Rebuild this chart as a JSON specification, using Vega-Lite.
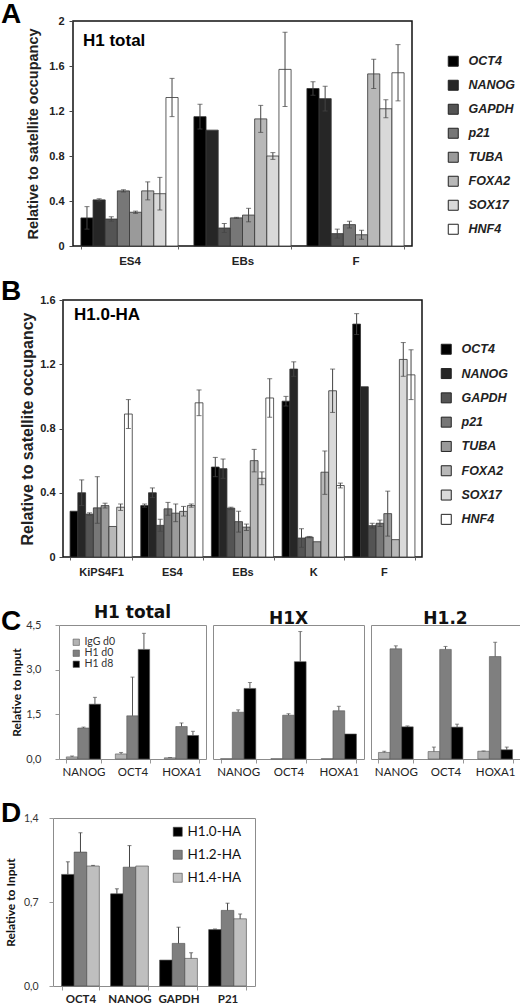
{
  "$schema": "https://vega.github.io/schema/vega-lite/v6.json",
  "background": "white",
  "padding": {"left": 1, "top": 1, "right": 0, "bottom": 0},
  "config": {"font": "Liberation Sans"},
  "columns": 1,
  "align": "none",
  "spacing": 25,
  "resolve": {"scale": {"x": "independent", "xOffset": "independent", "y": "independent", "color": "independent"}, "axis": {"x": "independent", "y": "independent"}, "legend": {"color": "independent"}},
  "datasets": {
    "a": [
      {"g":"ES4","k":"OCT4","v":0.25,"lo":0.15,"hi":0.35},
      {"g":"ES4","k":"NANOG","v":0.41,"lo":0.40,"hi":0.42},
      {"g":"ES4","k":"GAPDH","v":0.24,"lo":0.22,"hi":0.26},
      {"g":"ES4","k":"p21","v":0.49,"lo":0.48,"hi":0.50},
      {"g":"ES4","k":"TUBA","v":0.30,"lo":0.29,"hi":0.31},
      {"g":"ES4","k":"FOXA2","v":0.49,"lo":0.41,"hi":0.57},
      {"g":"ES4","k":"SOX17","v":0.465,"lo":0.32,"hi":0.61},
      {"g":"ES4","k":"HNF4","v":1.32,"lo":1.15,"hi":1.49},
      {"g":"EBs","k":"OCT4","v":1.15,"lo":1.04,"hi":1.26},
      {"g":"EBs","k":"NANOG","v":1.03},
      {"g":"EBs","k":"GAPDH","v":0.16,"lo":0.12,"hi":0.20},
      {"g":"EBs","k":"p21","v":0.25,"lo":0.245,"hi":0.255},
      {"g":"EBs","k":"TUBA","v":0.275,"lo":0.215,"hi":0.335},
      {"g":"EBs","k":"FOXA2","v":1.13,"lo":1.01,"hi":1.25},
      {"g":"EBs","k":"SOX17","v":0.80,"lo":0.77,"hi":0.83},
      {"g":"EBs","k":"HNF4","v":1.57,"lo":1.24,"hi":1.90},
      {"g":"F","k":"OCT4","v":1.40,"lo":1.34,"hi":1.46},
      {"g":"F","k":"NANOG","v":1.31,"lo":1.20,"hi":1.42},
      {"g":"F","k":"GAPDH","v":0.11,"lo":0.07,"hi":0.15},
      {"g":"F","k":"p21","v":0.19,"lo":0.16,"hi":0.22},
      {"g":"F","k":"TUBA","v":0.10,"lo":0.06,"hi":0.14},
      {"g":"F","k":"FOXA2","v":1.53,"lo":1.40,"hi":1.66},
      {"g":"F","k":"SOX17","v":1.22,"lo":1.14,"hi":1.30},
      {"g":"F","k":"HNF4","v":1.54,"lo":1.29,"hi":1.79}
    ],
    "b": [
      {"g":"KiPS4F1","k":"OCT4","v":0.285},
      {"g":"KiPS4F1","k":"NANOG","v":0.40,"lo":0.32,"hi":0.48},
      {"g":"KiPS4F1","k":"GAPDH","v":0.267,"lo":0.26,"hi":0.275},
      {"g":"KiPS4F1","k":"p21","v":0.306,"lo":0.21,"hi":0.50},
      {"g":"KiPS4F1","k":"TUBA","v":0.32,"lo":0.305,"hi":0.335},
      {"g":"KiPS4F1","k":"FOXA2","v":0.19},
      {"g":"KiPS4F1","k":"SOX17","v":0.31,"lo":0.29,"hi":0.33},
      {"g":"KiPS4F1","k":"HNF4","v":0.89,"lo":0.80,"hi":0.98},
      {"g":"ES4","k":"OCT4","v":0.32,"lo":0.31,"hi":0.33},
      {"g":"ES4","k":"NANOG","v":0.40,"lo":0.37,"hi":0.43},
      {"g":"ES4","k":"GAPDH","v":0.197,"lo":0.16,"hi":0.235},
      {"g":"ES4","k":"p21","v":0.30,"lo":0.26,"hi":0.34},
      {"g":"ES4","k":"TUBA","v":0.273,"lo":0.22,"hi":0.33},
      {"g":"ES4","k":"FOXA2","v":0.284,"lo":0.255,"hi":0.315},
      {"g":"ES4","k":"SOX17","v":0.32,"lo":0.31,"hi":0.33},
      {"g":"ES4","k":"HNF4","v":0.96,"lo":0.88,"hi":1.04},
      {"g":"EBs","k":"OCT4","v":0.56,"lo":0.50,"hi":0.62},
      {"g":"EBs","k":"NANOG","v":0.55,"lo":0.49,"hi":0.61},
      {"g":"EBs","k":"GAPDH","v":0.304,"lo":0.295,"hi":0.31},
      {"g":"EBs","k":"p21","v":0.22,"lo":0.155,"hi":0.285},
      {"g":"EBs","k":"TUBA","v":0.186,"lo":0.165,"hi":0.205},
      {"g":"EBs","k":"FOXA2","v":0.60,"lo":0.53,"hi":0.67},
      {"g":"EBs","k":"SOX17","v":0.49,"lo":0.45,"hi":0.53},
      {"g":"EBs","k":"HNF4","v":0.99,"lo":0.87,"hi":1.11},
      {"g":"K","k":"OCT4","v":0.97,"lo":0.94,"hi":1.0},
      {"g":"K","k":"NANOG","v":1.17,"lo":1.125,"hi":1.215},
      {"g":"K","k":"GAPDH","v":0.118,"lo":0.06,"hi":0.176},
      {"g":"K","k":"p21","v":0.124,"lo":0.12,"hi":0.128},
      {"g":"K","k":"TUBA","v":0.095},
      {"g":"K","k":"FOXA2","v":0.528,"lo":0.39,"hi":0.66},
      {"g":"K","k":"SOX17","v":1.035,"lo":0.90,"hi":1.17},
      {"g":"K","k":"HNF4","v":0.445,"lo":0.43,"hi":0.46},
      {"g":"F","k":"OCT4","v":1.45,"lo":1.385,"hi":1.515},
      {"g":"F","k":"NANOG","v":1.06},
      {"g":"F","k":"GAPDH","v":0.195,"lo":0.18,"hi":0.21},
      {"g":"F","k":"p21","v":0.21,"lo":0.19,"hi":0.23},
      {"g":"F","k":"TUBA","v":0.27,"lo":0.13,"hi":0.41},
      {"g":"F","k":"FOXA2","v":0.108},
      {"g":"F","k":"SOX17","v":1.23,"lo":1.125,"hi":1.335},
      {"g":"F","k":"HNF4","v":1.134,"lo":0.98,"hi":1.29}
    ],
    "c": [
      {"p":"H1 total","t":"NANOG","s":"IgG d0","v":0.07,"hi":0.10},
      {"p":"H1 total","t":"NANOG","s":"H1 d0","v":1.04,"hi":1.07},
      {"p":"H1 total","t":"NANOG","s":"H1 d8","v":1.84,"hi":2.07},
      {"p":"H1 total","t":"OCT4","s":"IgG d0","v":0.17,"hi":0.22},
      {"p":"H1 total","t":"OCT4","s":"H1 d0","v":1.45,"hi":2.75},
      {"p":"H1 total","t":"OCT4","s":"H1 d8","v":3.68,"hi":4.22},
      {"p":"H1 total","t":"HOXA1","s":"IgG d0","v":0.04,"hi":0.05},
      {"p":"H1 total","t":"HOXA1","s":"H1 d0","v":1.09,"hi":1.21},
      {"p":"H1 total","t":"HOXA1","s":"H1 d8","v":0.79,"hi":0.93},
      {"p":"H1X","t":"NANOG","s":"IgG d0","v":0.01},
      {"p":"H1X","t":"NANOG","s":"H1 d0","v":1.57,"hi":1.65},
      {"p":"H1X","t":"NANOG","s":"H1 d8","v":2.37,"hi":2.57},
      {"p":"H1X","t":"OCT4","s":"IgG d0","v":0.01},
      {"p":"H1X","t":"OCT4","s":"H1 d0","v":1.47,"hi":1.52},
      {"p":"H1X","t":"OCT4","s":"H1 d8","v":3.27,"hi":4.28},
      {"p":"H1X","t":"HOXA1","s":"IgG d0","v":0.01},
      {"p":"H1X","t":"HOXA1","s":"H1 d0","v":1.62,"hi":1.77},
      {"p":"H1X","t":"HOXA1","s":"H1 d8","v":0.84},
      {"p":"H1.2","t":"NANOG","s":"IgG d0","v":0.22,"hi":0.26},
      {"p":"H1.2","t":"NANOG","s":"H1 d0","v":3.70,"hi":3.80},
      {"p":"H1.2","t":"NANOG","s":"H1 d8","v":1.08,"hi":1.11},
      {"p":"H1.2","t":"OCT4","s":"IgG d0","v":0.25,"hi":0.40},
      {"p":"H1.2","t":"OCT4","s":"H1 d0","v":3.68,"hi":3.78},
      {"p":"H1.2","t":"OCT4","s":"H1 d8","v":1.07,"hi":1.17},
      {"p":"H1.2","t":"HOXA1","s":"IgG d0","v":0.26,"hi":0.27},
      {"p":"H1.2","t":"HOXA1","s":"H1 d0","v":3.44,"hi":3.92},
      {"p":"H1.2","t":"HOXA1","s":"H1 d8","v":0.31,"hi":0.40}
    ],
    "d": [
      {"t":"OCT4","s":"H1.0-HA","v":0.93,"hi":1.035},
      {"t":"OCT4","s":"H1.2-HA","v":1.116,"hi":1.277},
      {"t":"OCT4","s":"H1.4-HA","v":1.0,"hi":1.005},
      {"t":"NANOG","s":"H1.0-HA","v":0.768,"hi":0.81},
      {"t":"NANOG","s":"H1.2-HA","v":0.99,"hi":1.17},
      {"t":"NANOG","s":"H1.4-HA","v":1.0},
      {"t":"GAPDH","s":"H1.0-HA","v":0.216},
      {"t":"GAPDH","s":"H1.2-HA","v":0.355,"hi":0.49},
      {"t":"GAPDH","s":"H1.4-HA","v":0.23,"hi":0.277},
      {"t":"P21","s":"H1.0-HA","v":0.47,"hi":0.475},
      {"t":"P21","s":"H1.2-HA","v":0.63,"hi":0.69},
      {"t":"P21","s":"H1.4-HA","v":0.56,"hi":0.60}
    ]
  },
  "concat": [
  {
  "columns": 1,
  "align": "none",
  "spacing": 10,
  "resolve": {"scale": {"x": "independent", "xOffset": "independent", "y": "independent", "color": "independent"}, "axis": {"x": "independent", "y": "independent"}, "legend": {"color": "independent"}},
  "concat": [
    {
      "bounds": "flush",
      "spacing": 0,
      "resolve": {"scale": {"x": "independent", "xOffset": "independent", "y": "independent", "color": "independent"}, "legend": {"color": "independent"}},
      "hconcat": [
      {
        "width": 72, "height": 1,
        "view": {"stroke": null},
        "title": {"text": "A", "anchor": "start", "frame": "group", "font": "Liberation Sans", "fontSize": 28, "fontWeight": "bold", "color": "#000", "offset": -8},
        "data": {"values": []},
        "mark": "rect"
      },
      {
        "width": 339, "height": 225,
        "title": {"text": "H1 total", "anchor": "start", "frame": "group", "offset": -35, "dx": 10, "font": "Liberation Sans", "fontSize": 17, "fontWeight": "bold", "color": "#000"},
        "view": {"stroke": "#111", "strokeWidth": 1.5},
        "data": {"name": "a"},
        "encoding": {
          "x": {"field": "g", "type": "nominal", "sort": ["ES4","EBs","F"], "scale": {"paddingInner": 0.14, "paddingOuter": 0.07},
                "axis": {"title": null, "labelAngle": 0, "labelFont": "Liberation Sans", "labelFontWeight": "bold", "labelFontSize": 11.5, "labelColor": "#222", "tickBand": "extent", "tickSize": 3, "tickColor": "#666", "domain": false, "labelPadding": 6}},
          "xOffset": {"field": "k", "type": "nominal", "sort": ["OCT4","NANOG","GAPDH","p21","TUBA","FOXA2","SOX17","HNF4"]}
        },
        "layer": [
          {"mark": {"type": "bar", "stroke": "#333", "strokeWidth": 0.8},
           "encoding": {
             "y": {"field": "v", "type": "quantitative", "scale": {"domain": [0, 2], "nice": false},
                   "axis": {"title": "Relative to satellite occupancy", "values": [0,0.2,0.4,0.6,0.8,1,1.2,1.4,1.6,1.8,2], "format": ".1~f", "labelOverlap": false, "grid": false, "domain": false, "tickSize": 4, "tickColor": "#444", "labelPadding": 5, "labelFont": "Liberation Sans", "labelFontWeight": "bold", "labelFontSize": 11, "labelColor": "#222", "titleFont": "Liberation Sans", "titleFontSize": 14.5, "titleFontWeight": "bold", "titleColor": "#222", "titlePadding": 8}},
             "color": {"field": "k", "type": "nominal",
                       "scale": {"domain": ["OCT4","NANOG","GAPDH","p21","TUBA","FOXA2","SOX17","HNF4"], "range": ["#000000","#262626","#545454","#777777","#9a9a9a","#b8b8b8","#d9d9d9","#ffffff"]},
                       "legend": {"orient": "none", "legendX": 374, "legendY": 34, "title": null, "symbolType": "square", "symbolSize": 100, "symbolStrokeColor": "#222", "symbolStrokeWidth": 1, "labelFont": "Liberation Sans", "labelFontWeight": "bold", "labelFontStyle": "italic", "labelFontSize": 12.5, "labelColor": "#222", "rowPadding": 9, "labelOffset": 9}}
           }},
          {"mark": {"type": "rule", "color": "#444", "strokeWidth": 1},
           "encoding": {"y": {"field": "lo", "type": "quantitative", "title": "Relative to satellite occupancy"}, "y2": {"field": "hi"}}},
          {"mark": {"type": "tick", "size": 5, "thickness": 1, "color": "#444"},
           "encoding": {"y": {"field": "lo", "type": "quantitative", "title": "Relative to satellite occupancy"}}},
          {"mark": {"type": "tick", "size": 5, "thickness": 1, "color": "#444"},
           "encoding": {"y": {"field": "hi", "type": "quantitative", "title": "Relative to satellite occupancy"}}}
        ]
      }]
    },
    {
      "bounds": "flush",
      "spacing": 0,
      "resolve": {"scale": {"x": "independent", "xOffset": "independent", "y": "independent", "color": "independent"}, "legend": {"color": "independent"}},
      "hconcat": [
      {
        "width": 62, "height": 1,
        "view": {"stroke": null},
        "title": {"text": "B", "anchor": "start", "frame": "group", "font": "Liberation Sans", "fontSize": 28, "fontWeight": "bold", "color": "#000", "offset": -6},
        "data": {"values": []},
        "mark": "rect"
      },
      {
        "width": 359, "height": 257,
        "title": {"text": "H1.0-HA", "anchor": "start", "frame": "group", "offset": -30, "dx": 11, "font": "Liberation Sans", "fontSize": 17, "fontWeight": "bold", "color": "#000"},
        "view": {"stroke": "#111", "strokeWidth": 1.5},
        "data": {"name": "b"},
        "encoding": {
          "x": {"field": "g", "type": "nominal", "sort": ["KiPS4F1","ES4","EBs","K","F"], "scale": {"paddingInner": 0.12, "paddingOuter": 0.1},
                "axis": {"title": null, "labelAngle": 0, "labelFont": "Liberation Sans", "labelFontWeight": "bold", "labelFontSize": 11, "labelColor": "#222", "tickBand": "extent", "tickSize": 3, "tickColor": "#666", "domain": false, "labelPadding": 6}},
          "xOffset": {"field": "k", "type": "nominal", "sort": ["OCT4","NANOG","GAPDH","p21","TUBA","FOXA2","SOX17","HNF4"]}
        },
        "layer": [
          {"mark": {"type": "bar", "stroke": "#333", "strokeWidth": 0.8},
           "encoding": {
             "y": {"field": "v", "type": "quantitative", "scale": {"domain": [0, 1.6], "nice": false},
                   "axis": {"title": "Relative to satellite occupancy", "values": [0,0.2,0.4,0.6,0.8,1,1.2,1.4,1.6], "format": ".1~f", "labelOverlap": false, "grid": false, "domain": false, "tickSize": 4, "tickColor": "#444", "labelPadding": 4, "labelFont": "Liberation Sans", "labelFontWeight": "bold", "labelFontSize": 11, "labelColor": "#222", "titleFont": "Liberation Sans", "titleFontSize": 16, "titleFontWeight": "bold", "titleColor": "#222", "titlePadding": 4}},
             "color": {"field": "k", "type": "nominal",
                       "scale": {"domain": ["OCT4","NANOG","GAPDH","p21","TUBA","FOXA2","SOX17","HNF4"], "range": ["#000000","#262626","#545454","#777777","#9a9a9a","#b8b8b8","#d9d9d9","#ffffff"]},
                       "legend": {"orient": "none", "legendX": 377, "legendY": 43, "title": null, "symbolType": "square", "symbolSize": 100, "symbolStrokeColor": "#222", "symbolStrokeWidth": 1, "labelFont": "Liberation Sans", "labelFontWeight": "bold", "labelFontStyle": "italic", "labelFontSize": 12.5, "labelColor": "#222", "rowPadding": 9.3, "labelOffset": 9}}
           }},
          {"mark": {"type": "rule", "color": "#444", "strokeWidth": 1},
           "encoding": {"y": {"field": "lo", "type": "quantitative", "title": "Relative to satellite occupancy"}, "y2": {"field": "hi"}}},
          {"mark": {"type": "tick", "size": 5, "thickness": 1, "color": "#444"},
           "encoding": {"y": {"field": "lo", "type": "quantitative", "title": "Relative to satellite occupancy"}}},
          {"mark": {"type": "tick", "size": 5, "thickness": 1, "color": "#444"},
           "encoding": {"y": {"field": "hi", "type": "quantitative", "title": "Relative to satellite occupancy"}}}
        ]
      }]
    }
  ]
  },
  {
  "columns": 1,
  "align": "none",
  "spacing": 22,
  "resolve": {"scale": {"x": "independent", "xOffset": "independent", "y": "independent", "color": "independent"}, "axis": {"x": "independent", "y": "independent"}, "legend": {"color": "independent"}},
  "concat": [
    {
      "bounds": "flush",
      "spacing": 7,
      "resolve": {"scale": {"color": "independent", "y": "independent", "x": "independent", "xOffset": "independent"}, "legend": {"color": "independent"}},
      "hconcat": [
        {
          "width": 50.7, "height": 1,
          "view": {"stroke": null},
          "title": {"text": "C", "anchor": "start", "frame": "group", "font": "Liberation Sans", "fontSize": 28, "fontWeight": "bold", "color": "#000", "offset": -11},
          "data": {"values": []},
          "mark": "rect"
        },
        {
          "width": 147, "height": 134,
          "title": {"text": "H1 total", "font": "DejaVu Sans", "fontSize": 17, "fontWeight": "bold", "color": "#111", "offset": -3},
          "view": {"stroke": "#8c8c8c", "strokeWidth": 1},
          "data": {"name": "c"},
          "transform": [{"filter": "datum.p === 'H1 total'"}],
          "encoding": {
            "x": {"field": "t", "type": "nominal", "sort": ["NANOG","OCT4","HOXA1"], "scale": {"paddingInner": 0.3, "paddingOuter": 0.15},
                  "axis": {"title": null, "labelAngle": 0, "labelFont": "Lato", "labelFontSize": 11.5, "labelColor": "#222", "tickBand": "extent", "tickSize": 4, "tickColor": "#999", "domain": false, "labelPadding": 3}},
            "xOffset": {"field": "s", "type": "nominal", "sort": ["IgG d0","H1 d0","H1 d8"]}
          },
          "layer": [
            {"mark": {"type": "bar", "stroke": "#555", "strokeWidth": 0.6},
             "encoding": {
               "y": {"field": "v", "type": "quantitative", "scale": {"domain": [0, 4.5], "nice": false},
                     "axis": {"title": "Relative to Input", "values": [0,1.5,3,4.5], "labelExpr": "replace(format(datum.value, '.1f'), '.', ',')", "grid": false, "domain": false, "tickSize": 4, "tickColor": "#999", "labelPadding": 14, "labelFont": "Lato", "labelFontSize": 11, "labelColor": "#333", "titleFont": "Lato", "titleFontSize": 12, "titleFontWeight": "bold", "titleColor": "#111", "titlePadding": 2}},
               "color": {"field": "s", "type": "nominal",
                         "scale": {"domain": ["IgG d0","H1 d0","H1 d8"], "range": ["#b3b3b3","#7f7f7f","#000000"]},
                         "legend": {"orient": "none", "legendX": 12, "legendY": 12, "title": null, "symbolType": "square", "symbolSize": 40, "symbolStrokeColor": "#555", "symbolStrokeWidth": 0.6, "labelFont": "Lato", "labelFontSize": 10.5, "labelColor": "#333", "rowPadding": 0, "labelOffset": 3}}
             }},
            {"mark": {"type": "rule", "color": "#555", "strokeWidth": 1},
             "encoding": {"y": {"field": "v", "type": "quantitative", "title": "Relative to Input"}, "y2": {"field": "hi"}}},
            {"mark": {"type": "tick", "size": 4, "thickness": 1, "color": "#555"},
             "encoding": {"y": {"field": "hi", "type": "quantitative", "title": "Relative to Input"}}}
          ]
        },
        {
          "width": 151, "height": 134,
          "title": {"text": "H1X", "font": "DejaVu Sans", "fontSize": 17, "fontWeight": "bold", "color": "#111", "offset": -3},
          "view": {"stroke": "#8c8c8c", "strokeWidth": 1},
          "data": {"name": "c"},
          "transform": [{"filter": "datum.p === 'H1X'"}],
          "encoding": {
            "x": {"field": "t", "type": "nominal", "sort": ["NANOG","OCT4","HOXA1"], "scale": {"paddingInner": 0.3, "paddingOuter": 0.15},
                  "axis": {"title": null, "labelAngle": 0, "labelFont": "Lato", "labelFontSize": 11.5, "labelColor": "#222", "tickBand": "extent", "tickSize": 4, "tickColor": "#999", "domain": false, "labelPadding": 3}},
            "xOffset": {"field": "s", "type": "nominal", "sort": ["IgG d0","H1 d0","H1 d8"]}
          },
          "layer": [
            {"mark": {"type": "bar", "stroke": "#555", "strokeWidth": 0.6},
             "encoding": {
               "y": {"field": "v", "type": "quantitative", "scale": {"domain": [0, 4.5], "nice": false}, "axis": null},
               "color": {"field": "s", "type": "nominal",
                         "scale": {"domain": ["IgG d0","H1 d0","H1 d8"], "range": ["#b3b3b3","#7f7f7f","#000000"]}, "legend": null}
             }},
            {"mark": {"type": "rule", "color": "#555", "strokeWidth": 1},
             "encoding": {"y": {"field": "v", "type": "quantitative", "axis": null}, "y2": {"field": "hi"}}},
            {"mark": {"type": "tick", "size": 4, "thickness": 1, "color": "#555"},
             "encoding": {"y": {"field": "hi", "type": "quantitative", "axis": null}}}
          ]
        },
        {
          "width": 149, "height": 134,
          "title": {"text": "H1.2", "font": "DejaVu Sans", "fontSize": 17, "fontWeight": "bold", "color": "#111", "offset": -3},
          "view": {"stroke": "#8c8c8c", "strokeWidth": 1},
          "data": {"name": "c"},
          "transform": [{"filter": "datum.p === 'H1.2'"}],
          "encoding": {
            "x": {"field": "t", "type": "nominal", "sort": ["NANOG","OCT4","HOXA1"], "scale": {"paddingInner": 0.3, "paddingOuter": 0.15},
                  "axis": {"title": null, "labelAngle": 0, "labelFont": "Lato", "labelFontSize": 11.5, "labelColor": "#222", "tickBand": "extent", "tickSize": 4, "tickColor": "#999", "domain": false, "labelPadding": 3}},
            "xOffset": {"field": "s", "type": "nominal", "sort": ["IgG d0","H1 d0","H1 d8"]}
          },
          "layer": [
            {"mark": {"type": "bar", "stroke": "#555", "strokeWidth": 0.6},
             "encoding": {
               "y": {"field": "v", "type": "quantitative", "scale": {"domain": [0, 4.5], "nice": false}, "axis": null},
               "color": {"field": "s", "type": "nominal",
                         "scale": {"domain": ["IgG d0","H1 d0","H1 d8"], "range": ["#b3b3b3","#7f7f7f","#000000"]}, "legend": null}
             }},
            {"mark": {"type": "rule", "color": "#555", "strokeWidth": 1},
             "encoding": {"y": {"field": "v", "type": "quantitative", "axis": null}, "y2": {"field": "hi"}}},
            {"mark": {"type": "tick", "size": 4, "thickness": 1, "color": "#555"},
             "encoding": {"y": {"field": "hi", "type": "quantitative", "axis": null}}}
          ]
        }
      ]
    },
    {
      "bounds": "flush",
      "spacing": 0,
      "resolve": {"scale": {"x": "independent", "xOffset": "independent", "y": "independent", "color": "independent"}, "legend": {"color": "independent"}},
      "hconcat": [
      {
        "width": 52, "height": 1,
        "view": {"stroke": null},
        "title": {"text": "D", "anchor": "start", "frame": "group", "font": "Liberation Sans", "fontSize": 28, "fontWeight": "bold", "color": "#000", "offset": -10},
        "data": {"values": []},
        "mark": "rect"
      },
      {
        "width": 202, "height": 168,
        "view": {"stroke": "#8c8c8c", "strokeWidth": 1},
        "data": {"name": "d"},
        "encoding": {
          "x": {"field": "t", "type": "nominal", "sort": ["OCT4","NANOG","GAPDH","P21"], "scale": {"paddingInner": 0.23, "paddingOuter": 0.175},
                "axis": {"title": null, "labelAngle": 0, "labelFont": "Lato", "labelFontWeight": "bold", "labelFontSize": 11.5, "labelColor": "#222", "tickBand": "extent", "tickSize": 4, "tickColor": "#999", "domain": false, "labelPadding": 3}},
          "xOffset": {"field": "s", "type": "nominal", "sort": ["H1.0-HA","H1.2-HA","H1.4-HA"]}
        },
        "layer": [
          {"mark": {"type": "bar", "stroke": "#444", "strokeWidth": 0.6},
           "encoding": {
             "y": {"field": "v", "type": "quantitative", "scale": {"domain": [0, 1.4], "nice": false},
                   "axis": {"title": "Relative to Input", "values": [0,0.7,1.4], "labelExpr": "replace(format(datum.value, '.1f'), '.', ',')", "grid": false, "domain": false, "tickSize": 4, "tickColor": "#999", "labelPadding": 11, "labelFont": "Lato", "labelFontSize": 10.5, "labelColor": "#333", "titleFont": "Lato", "titleFontSize": 12, "titleFontWeight": "bold", "titleColor": "#111", "titlePadding": 6}},
             "color": {"field": "s", "type": "nominal",
                       "scale": {"domain": ["H1.0-HA","H1.2-HA","H1.4-HA"], "range": ["#000000","#7f7f7f","#bfbfbf"]},
                       "legend": {"orient": "none", "legendX": 118, "legendY": 7, "title": null, "symbolType": "square", "symbolSize": 81, "symbolStrokeColor": "#444", "symbolStrokeWidth": 0.6, "labelFont": "Lato", "labelFontSize": 13.5, "labelColor": "#111", "rowPadding": 8, "labelOffset": 3}}
           }},
          {"mark": {"type": "rule", "color": "#444", "strokeWidth": 1},
           "encoding": {"y": {"field": "v", "type": "quantitative", "title": "Relative to Input"}, "y2": {"field": "hi"}}},
          {"mark": {"type": "tick", "size": 4, "thickness": 1, "color": "#444"},
           "encoding": {"y": {"field": "hi", "type": "quantitative", "title": "Relative to Input"}}}
        ]
      }]
    }
  ]
  }
  ]
}
